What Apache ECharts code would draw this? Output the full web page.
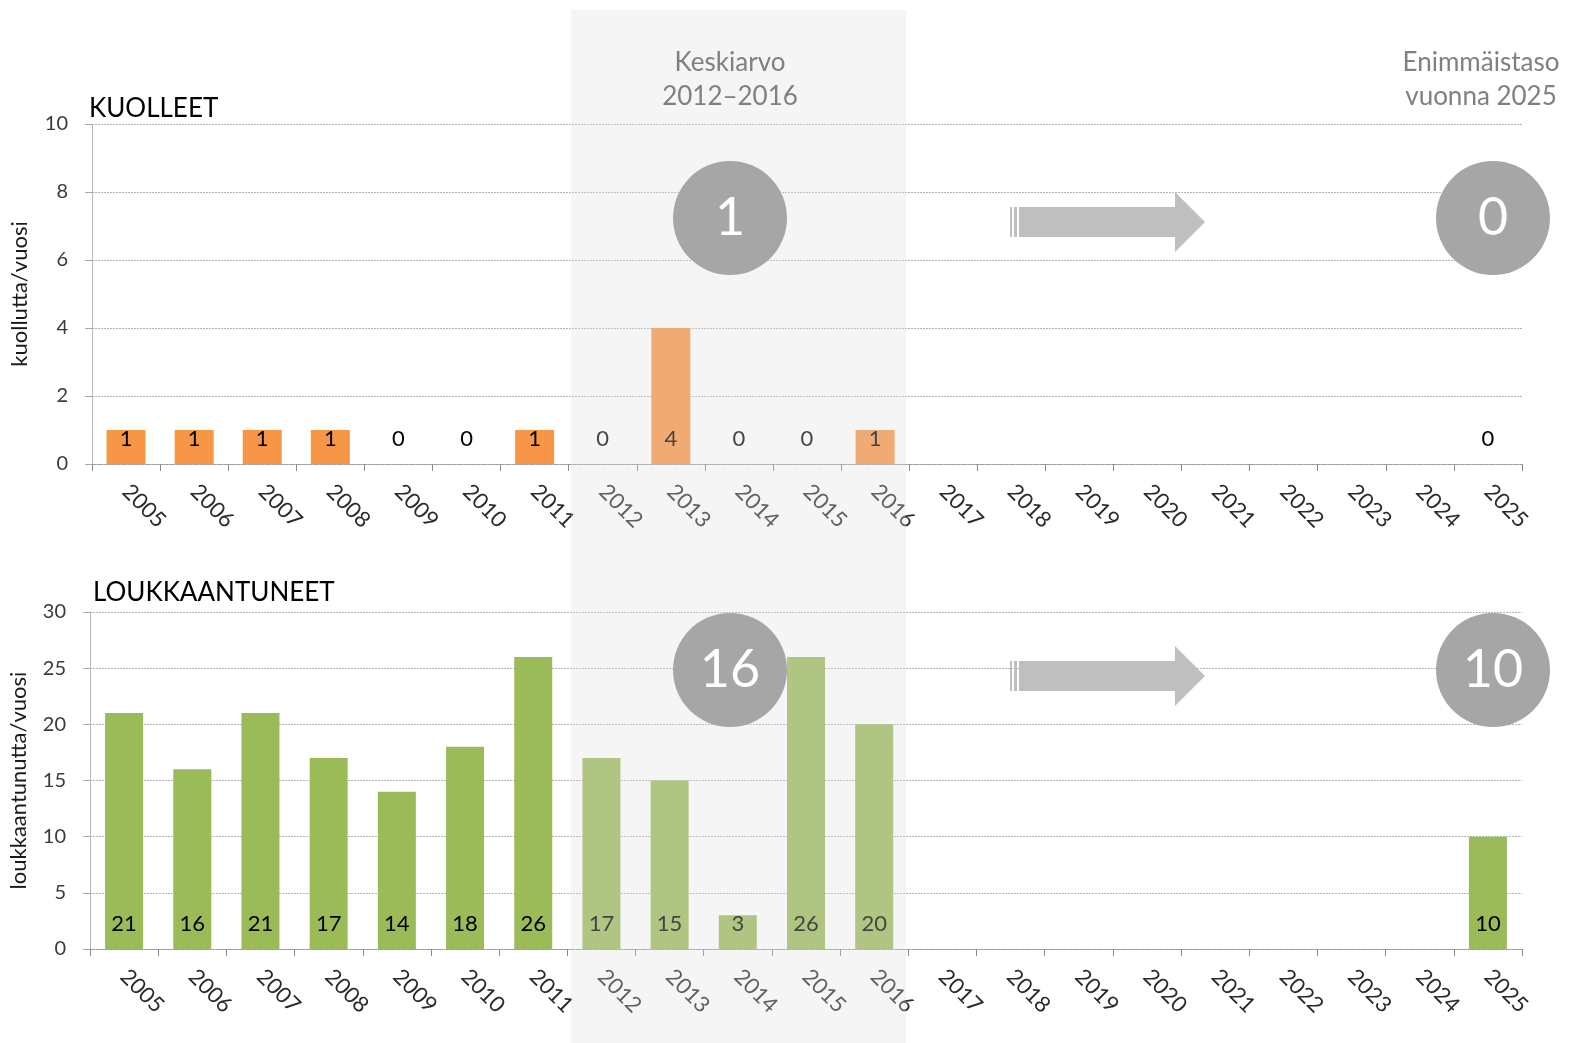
<!DOCTYPE html>
<html>
<head>
<meta charset="utf-8">
<script src="https://cdn.jsdelivr.net/npm/echarts@6/dist/echarts.min.js"></script>
<style>html,body{margin:0;padding:0;background:#fff}#c{width:1569px;height:1043px}</style>
</head>
<body>
<div id="c"></div>
<script>
var years = ['2005','2006','2007','2008','2009','2010','2011','2012','2013','2014','2015','2016','2017','2018','2019','2020','2021','2022','2023','2024','2025'];
var deaths = [1,1,1,1,0,0,1,0,4,0,0,1,null,null,null,null,null,null,null,null,0];
var injured = [21,16,21,17,14,18,26,17,15,3,26,20,null,null,null,null,null,null,null,null,10];
var deathTicks = {min:0, max:10, interval:2};
var injuredTicks = {min:0, max:30, interval:5};
var avgDeaths = '1', targetDeaths = '0', avgInjured = '16', targetInjured = '10';

var FONT = 'Lato, "Open Sans", sans-serif';
var chart = echarts.init(document.getElementById('c'));

function xAxis(idx){
  return {
    type:'category', gridIndex:idx, data:years, boundaryGap:true,
    axisLine:{lineStyle:{color:'#9a9a9a', type:'dotted'}},
    axisTick:{show:true, length:7, lineStyle:{color:'#8a8a8a'}},
    axisLabel:{rotate:-45, interval:0, fontSize:22, color:'#2a2a2a', fontFamily:FONT, margin:24}
  };
}
function yAxis(idx, t, name, gap){
  return {
    type:'value', gridIndex:idx, min:t.min, max:t.max, interval:t.interval,
    name:name, nameLocation:'middle', nameGap:gap, nameRotate:90,
    nameTextStyle:{fontSize:22, color:'#1a1a1a', fontFamily:FONT},
    axisLine:{show:true, lineStyle:{color:'#a8a8a8', type:'dotted'}},
    axisTick:{show:true, length:7, lineStyle:{color:'#a8a8a8'}},
    axisLabel:{fontSize:20, color:'#3a3a3a', fontFamily:FONT, margin:24},
    splitLine:{lineStyle:{color:'#b4b4b4', type:[2,1]}}
  };
}
function labelCfg(){
  return {show:true, position:'insideBottom', distance:14, fontSize:22, color:'#000', fontFamily:FONT,
    formatter:function(p){return p.value==null?'':String(p.value);}};
}

function arrow(y){
  return [
    {type:'rect', z:55, shape:{x:1010,y:y-15,width:2,height:30}, style:{fill:'#bfbfbf'}},
    {type:'rect', z:55, shape:{x:1014,y:y-15,width:3,height:30}, style:{fill:'#bfbfbf'}},
    {type:'polygon', z:55, shape:{points:[[1019,y-15],[1175,y-15],[1175,y-30],[1205,y],[1175,y+30],[1175,y+15],[1019,y+15]]}, style:{fill:'#bfbfbf'}}
  ];
}
function badge(cx, cy, txt){
  return [
    {type:'circle', z:60, shape:{cx:cx, cy:cy, r:57}, style:{fill:'#a6a6a6'}},
    {type:'text', z:61, x:cx, y:cy, style:{text:txt, fill:'#fff', fontSize:52, fontFamily:FONT, align:'center', verticalAlign:'middle'}}
  ];
}

var graphics = [
  {type:'rect', z:50, shape:{x:571, y:10, width:335, height:1033}, style:{fill:'rgba(222,222,222,0.3)'}},
  {type:'text', z:61, x:730, y:80, style:{text:'Keskiarvo\n2012–2016', fill:'#808080', fontSize:26, lineHeight:34, fontFamily:FONT, align:'center', verticalAlign:'middle'}},
  {type:'text', z:61, x:1481, y:80, style:{text:'Enimmäistaso\nvuonna 2025', fill:'#808080', fontSize:26, lineHeight:34, fontFamily:FONT, align:'center', verticalAlign:'middle'}}
].concat(arrow(222), arrow(676),
  badge(730, 218, avgDeaths), badge(1493, 218, targetDeaths),
  badge(730, 670, avgInjured), badge(1493, 670, targetInjured));

chart.setOption({
  animation:false,
  backgroundColor:'#ffffff',
  title:[
    {text:'KUOLLEET', left:84, top:91, textStyle:{fontSize:26, fontWeight:'normal', color:'#000', fontFamily:FONT}},
    {text:'LOUKKAANTUNEET', left:88, top:575, textStyle:{fontSize:26, fontWeight:'normal', color:'#000', fontFamily:FONT}}
  ],
  grid:[
    {left:92, right:47, top:124, height:340},
    {left:89, right:47, top:612, height:337}
  ],
  xAxis:[xAxis(0), xAxis(1)],
  yAxis:[yAxis(0, deathTicks, 'kuollutta/vuosi', 61), yAxis(1, injuredTicks, 'loukkaantunutta/vuosi', 60)],
  series:[
    {type:'bar', xAxisIndex:0, yAxisIndex:0, data:deaths, barWidth:39, itemStyle:{color:'#f79646'}, label:labelCfg()},
    {type:'bar', xAxisIndex:1, yAxisIndex:1, data:injured, barWidth:38, itemStyle:{color:'#9bbb59'}, label:labelCfg()}
  ],
  graphic:graphics
});
</script>
</body>
</html>
